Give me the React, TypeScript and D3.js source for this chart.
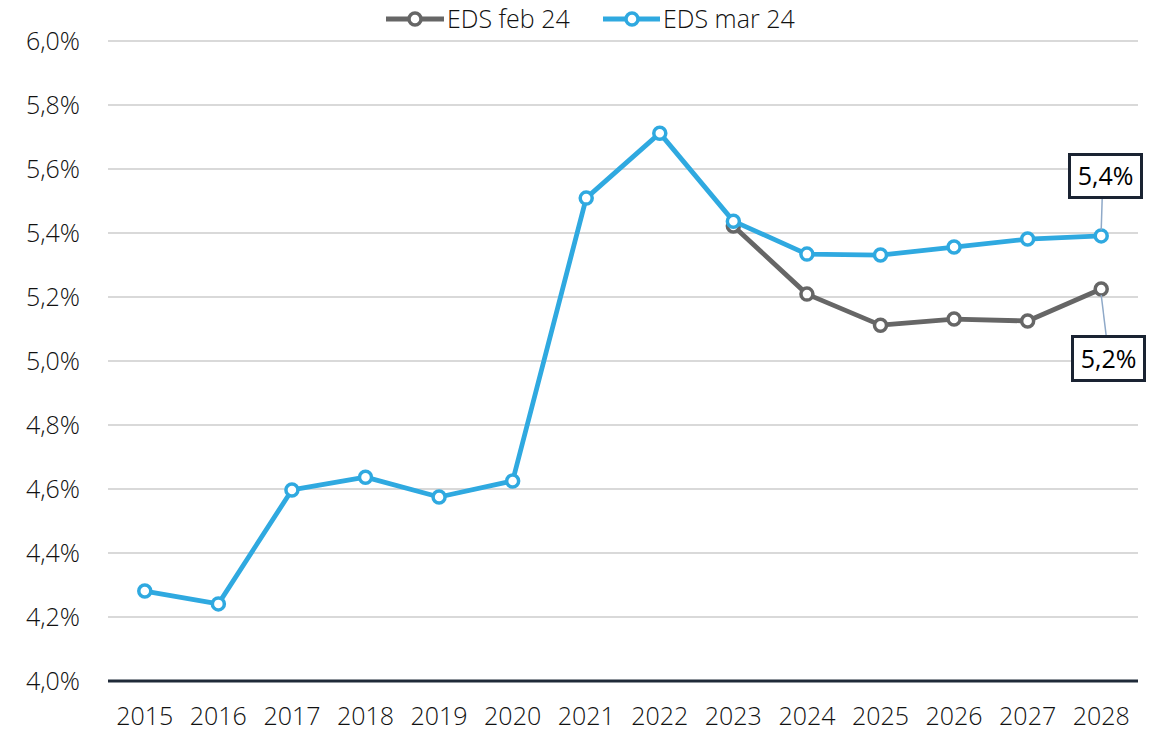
import React from "react";
import * as d3 from "d3";

const years = ["2015","2016","2017","2018","2019","2020","2021","2022","2023","2024","2025","2026","2027","2028"];
const edsMar24 = [4.281, 4.241, 4.597, 4.637, 4.575, 4.625, 5.509, 5.712, 5.437, 5.334, 5.331, 5.356, 5.381, 5.391];
const edsFeb24: (number | null)[] = [null, null, null, null, null, null, null, null, 5.422, 5.209, 5.112, 5.131, 5.125, 5.225];
const yTicks = [4.0, 4.2, 4.4, 4.6, 4.8, 5.0, 5.2, 5.4, 5.6, 5.8, 6.0];
const seriesNames = ["EDS feb 24", "EDS mar 24"];
const endLabels = ["5,4%", "5,2%"];

const W = 1158, H = 731;
const FONT = "'Open Sans', sans-serif";
const BLUE = "#2fa9e0";
const GRAY = "#666666";
const TXT = "#111111";

export default function App() {
  const x = d3.scaleBand<string>().domain(years).range([108, 1138]);
  const y = d3.scaleLinear().domain([4.0, 6.0]).range([681, 41]);
  const cx = (yr: string) => (x(yr) as number) + x.bandwidth() / 2;
  const fmt = (v: number) => v.toFixed(1).replace(".", ",") + "%";

  const line = d3.line<number | null>()
    .defined((d) => d != null)
    .x((_, i) => cx(years[i]))
    .y((d) => y(d as number));

  const lastX = cx(years[years.length - 1]);
  const lastBlue = y(edsMar24[edsMar24.length - 1]);
  const lastGray = y(edsFeb24[edsFeb24.length - 1] as number);

  return (
    <svg width={W} height={H} style={{ position: "absolute", left: 0, top: 0, background: "#fff" }} fontFamily={FONT}>
      {yTicks.map((t) => (
        <g key={t}>
          {t !== 4.0 && <line x1={108} x2={1138} y1={y(t)} y2={y(t)} stroke="#d9d9d9" strokeWidth={2} />}
          <text x={80} y={y(t)} dy="0.36em" textAnchor="end" fontSize={25} fontWeight={300} fill={TXT}>{fmt(t)}</text>
        </g>
      ))}
      <line x1={108} x2={1138} y1={y(4.0)} y2={y(4.0)} stroke="#1f2a38" strokeWidth={3} />
      {years.map((yr) => (
        <text key={yr} x={cx(yr)} y={725} textAnchor="middle" fontSize={25} fontWeight={300} fill={TXT}>{yr}</text>
      ))}

      <path d={line(edsFeb24) || ""} fill="none" stroke={GRAY} strokeWidth={4.8} strokeLinejoin="round" />
      {edsFeb24.map((v, i) => v == null ? null : (
        <circle key={"g" + i} cx={cx(years[i])} cy={y(v)} r={6} fill="#fff" stroke={GRAY} strokeWidth={3.5} />
      ))}
      <path d={line(edsMar24) || ""} fill="none" stroke={BLUE} strokeWidth={4.8} strokeLinejoin="round" />
      {edsMar24.map((v, i) => (
        <circle key={"b" + i} cx={cx(years[i])} cy={y(v)} r={6} fill="#fff" stroke={BLUE} strokeWidth={3.5} />
      ))}

      {/* end labels */}
      <line x1={lastX + 1} y1={198} x2={lastX} y2={lastBlue - 6} stroke="#8fa9c8" strokeWidth={1.5} />
      <rect x={1069.5} y={154.5} width={72} height={43} fill="#fff" stroke="#1a2332" strokeWidth={3} />
      <text x={1105.5} y={176} dy="0.36em" textAnchor="middle" fontSize={25} fill="#000">{endLabels[0]}</text>

      <line x1={lastX} y1={lastGray + 6} x2={lastX + 5} y2={336} stroke="#8fa9c8" strokeWidth={1.5} />
      <rect x={1072.5} y={336.5} width={72} height={44} fill="#fff" stroke="#1a2332" strokeWidth={3} />
      <text x={1108.5} y={359} dy="0.36em" textAnchor="middle" fontSize={25} fill="#000">{endLabels[1]}</text>

      {/* legend */}
      <g>
        <line x1={386} x2={444} y1={19} y2={19} stroke={GRAY} strokeWidth={4.8} />
        <circle cx={415} cy={19} r={6} fill="#fff" stroke={GRAY} strokeWidth={3.5} />
        <text x={447} y={19} dy="0.36em" fontSize={25} fontWeight={300} fill={TXT}>{seriesNames[0]}</text>
        <line x1={603} x2={660} y1={19} y2={19} stroke={BLUE} strokeWidth={4.8} />
        <circle cx={632} cy={19} r={6} fill="#fff" stroke={BLUE} strokeWidth={3.5} />
        <text x={663} y={19} dy="0.36em" fontSize={25} fontWeight={300} fill={TXT}>{seriesNames[1]}</text>
      </g>
    </svg>
  );
}
